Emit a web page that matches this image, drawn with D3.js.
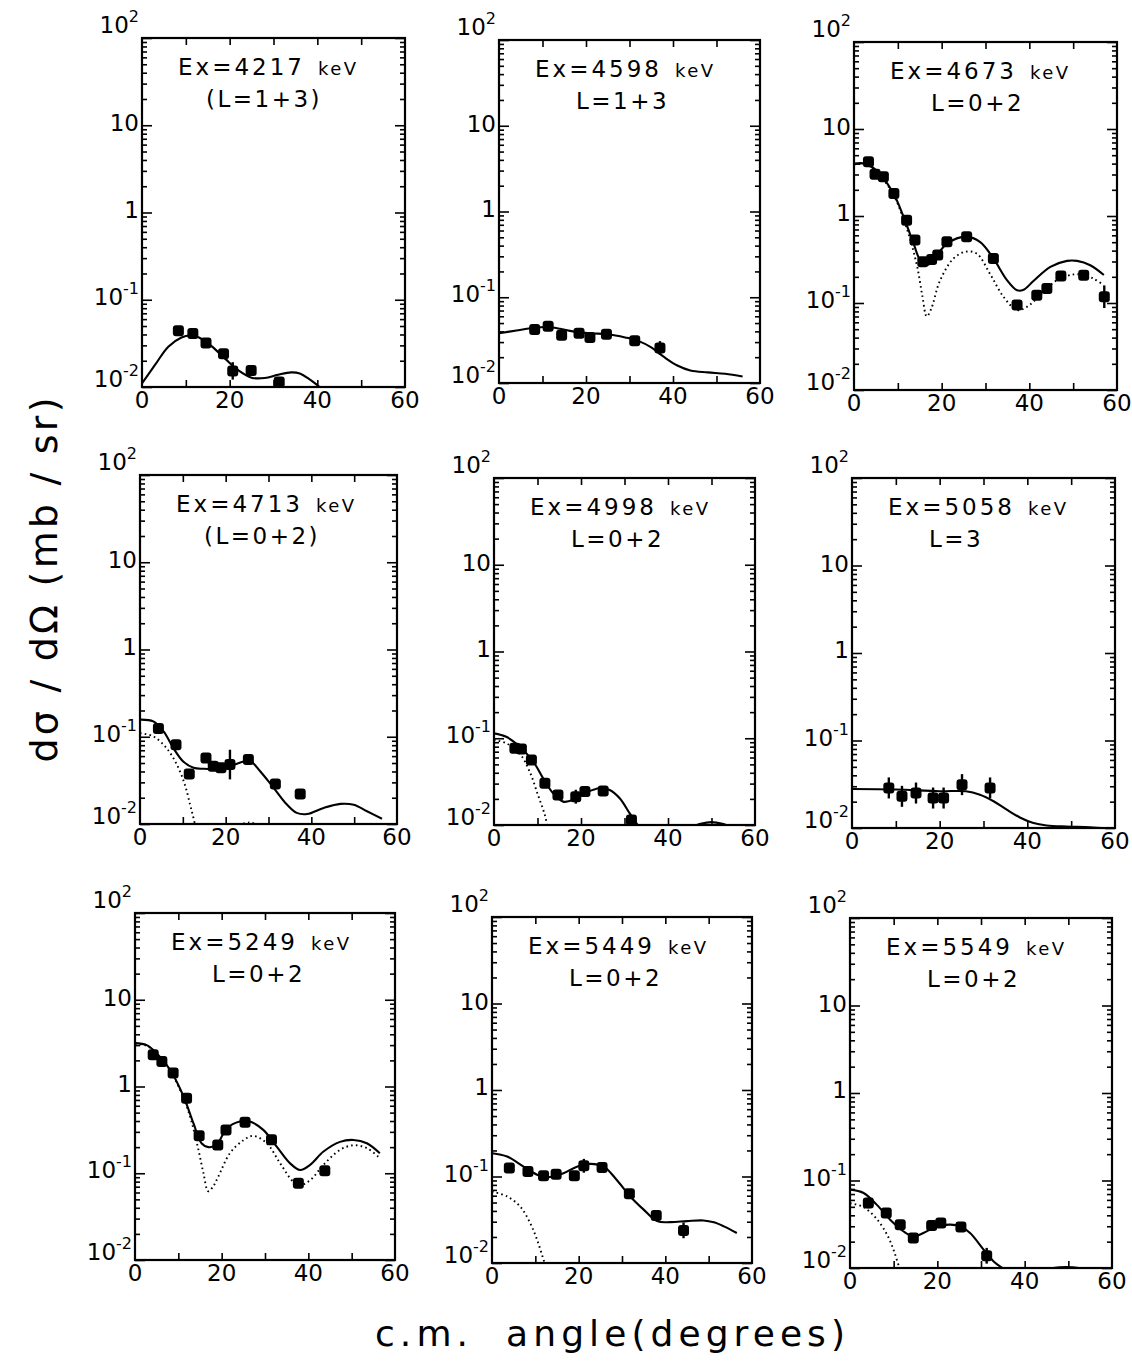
<!DOCTYPE html>
<html lang="en">
<head>
  <meta charset="UTF-8">
  <title>Angular distributions</title>
  <script src="https://cdn.jsdelivr.net/npm/d3@7"></script>
  <style>
    body { margin: 0; background: #fff; }
    svg text { font-family: "DejaVu Sans", sans-serif; fill: #000; }
  </style>
</head>
<body>
  <svg id="chart" width="1132" height="1371"></svg>
  <script>
    // ---- data ----
    const xTicks = [0, 20, 40, 60];
    const xInnerTicks = [10, 20, 30, 40, 50];
    const yDecades = [100, 10, 1, 0.1, 0.01];
    const yLabelBase = ["10", "10", "1", "10", "10"];
    const yLabelSup = ["2", "", "", "-1", "-2"];

    const exLabels = ["4217", "4598", "4673", "4713", "4998", "5058", "5249", "5449", "5549"];
    const lLabels = ["(L=1+3)", "L=1+3", "L=0+2", "(L=0+2)", "L=0+2", "L=3", "L=0+2", "L=0+2", "L=0+2"];

    // points: [angle, dσ/dΩ, error half-width in decades (optional)]
    const pts4217 = [[8.3, 0.044], [11.6, 0.041], [14.6, 0.032], [18.6, 0.024], [20.7, 0.0153, 0.1], [24.9, 0.0155], [31.3, 0.0114]];
    const fit4217 = [[0, 0.011], [3, 0.018], [6, 0.029], [9, 0.037], [11, 0.039], [13, 0.037], [16, 0.029], [19, 0.021], [22, 0.0155], [25, 0.0128], [28, 0.0127], [31, 0.0138], [34, 0.0147], [36, 0.0143], [38, 0.0125], [40, 0.0105], [42, 0.0085]];

    const pts4598 = [[8.2, 0.042], [11.3, 0.046], [14.4, 0.036], [18.4, 0.038], [20.9, 0.034], [24.7, 0.037], [31.2, 0.031], [37, 0.0256, 0.08]];
    const fit4598 = [[0, 0.038], [4, 0.041], [8, 0.044], [11, 0.045], [14, 0.043], [17, 0.040], [21, 0.038], [25, 0.037], [29, 0.034], [32, 0.031], [35, 0.026], [38, 0.020], [41, 0.016], [44, 0.014], [48, 0.0133], [52, 0.0128], [56, 0.0119]];

    const pts4673 = [[3.3, 4.19], [4.8, 3.02], [6.7, 2.82], [9.1, 1.81], [12.0, 0.895], [13.9, 0.53], [15.7, 0.298], [17.7, 0.317], [19.1, 0.356], [21.2, 0.506], [25.7, 0.577], [31.8, 0.325], [37.2, 0.0946, 0.05], [41.7, 0.123], [44.0, 0.147], [47.2, 0.204], [52.4, 0.209], [57.1, 0.118, 0.13]];
    const fit4673 = [[0, 4.0], [2.5, 4.0], [5.5, 3.2], [9, 1.81], [11.3, 0.98], [13.6, 0.48], [15.1, 0.31], [16.6, 0.272], [18.1, 0.31], [21.2, 0.48], [25.7, 0.58], [28.8, 0.5], [31.8, 0.325], [34.9, 0.183], [37.2, 0.14], [38.7, 0.142], [41, 0.18], [44.8, 0.26], [48.6, 0.305], [50.9, 0.305], [53.9, 0.272], [57, 0.21]];
    const dot4673 = [[0, 3.9], [2.5, 3.9], [5.5, 3.1], [9, 1.75], [11.3, 0.92], [13, 0.5], [14.5, 0.25], [15.6, 0.12], [16.6, 0.07], [17.6, 0.085], [19.6, 0.18], [22.7, 0.325], [25.4, 0.388], [28, 0.37], [31.1, 0.213], [34.1, 0.118], [37.2, 0.083], [39.4, 0.09], [42.5, 0.123], [46.3, 0.183], [50.1, 0.213], [52.4, 0.21], [54.7, 0.19], [57, 0.16]];

    const pts4713 = [[4.3, 0.124], [8.4, 0.081], [11.5, 0.0375], [15.4, 0.057], [17.1, 0.046], [18.9, 0.044], [21.0, 0.048, 0.17], [25.3, 0.0547], [31.6, 0.0288], [37.4, 0.0221]];
    const fit4713 = [[0, 0.157], [3.1, 0.15], [5.5, 0.115], [7.8, 0.074], [10.1, 0.052], [12.5, 0.044], [14.8, 0.043], [17.9, 0.043], [21, 0.046], [24.2, 0.052], [25.7, 0.053], [28.1, 0.040], [31.2, 0.026], [34.3, 0.0167], [36.6, 0.0134], [39, 0.013], [42.9, 0.0153], [46.8, 0.017], [49.9, 0.0166], [53, 0.014], [56.5, 0.0115]];
    const dot4713 = [[0, 0.11], [3.1, 0.101], [6.2, 0.074], [8.6, 0.048], [10.5, 0.028], [11.7, 0.0166], [12.3, 0.0128], [13, 0.009], null, [23, 0.0097], [25.5, 0.0104], [28, 0.0097]];

    const pts4998 = [[4.8, 0.0767], [6.3, 0.0752], [8.6, 0.056], [11.7, 0.0303], [14.7, 0.0222], [18.8, 0.0212, 0.08], [20.9, 0.0243], [25.1, 0.0247], [31.6, 0.0114]];
    const fit4998 = [[0, 0.114], [2.8, 0.104], [5.9, 0.080], [9, 0.054], [11.3, 0.0345], [13.6, 0.0232], [15.9, 0.0186], [18.2, 0.0194], [21.3, 0.0238], [24.3, 0.0265], [26.6, 0.0253], [28.9, 0.0203], [31.2, 0.0136], [32.8, 0.0104], [34, 0.0085], null, [45, 0.0092], [47.5, 0.0103], [50, 0.0108], [52.5, 0.0103], [55, 0.0092]];
    const dot4998 = [[0, 0.096], [2.8, 0.0875], [5.9, 0.067], [8.2, 0.0412], [10.1, 0.0222], [11.7, 0.013], [12.5, 0.0085]];

    const pts5058 = [[8.4, 0.0287, 0.12], [11.4, 0.023, 0.12], [14.6, 0.0251, 0.12], [18.5, 0.022, 0.12], [20.9, 0.022, 0.12], [25.1, 0.0313, 0.12], [31.5, 0.0287, 0.12]];
    const fit5058 = [[0, 0.0279], [10, 0.0275], [20, 0.0263], [26, 0.0263], [29.2, 0.024], [32.3, 0.0202], [35.3, 0.0162], [38.3, 0.0132], [41.4, 0.0114], [44.4, 0.0107], [49, 0.0104], [54.3, 0.0102], [58, 0.0099]];

    const pts5249 = [[4.2, 2.32], [6.2, 1.94], [8.8, 1.43], [11.9, 0.733], [14.8, 0.27], [19.1, 0.212], [21.0, 0.316], [25.4, 0.388], [31.5, 0.243], [37.7, 0.0767], [43.8, 0.107]];
    const fit5249 = [[0, 3.16], [2.7, 3.0], [5, 2.42], [8.1, 1.56], [11.2, 0.77], [13.5, 0.375], [15.4, 0.22], [16.9, 0.2], [18.8, 0.212], [21.2, 0.33], [24.2, 0.395], [26.5, 0.395], [29.6, 0.316], [32.7, 0.203], [35.8, 0.13], [38.1, 0.109], [40.4, 0.125], [43.5, 0.178], [47.3, 0.23], [50.4, 0.242], [53.5, 0.222], [56.5, 0.17]];
    const dot5249 = [[0, 3.1], [2.7, 2.95], [5, 2.38], [8.1, 1.52], [11.2, 0.74], [13, 0.4], [14.5, 0.2], [15.8, 0.1], [16.9, 0.062], [18, 0.07], [19.2, 0.091], [21.9, 0.17], [25, 0.24], [27.3, 0.27], [30.4, 0.222], [33.5, 0.13], [36.5, 0.08], [38, 0.073], [40.4, 0.083], [43.5, 0.125], [47.3, 0.186], [50.4, 0.21], [53.5, 0.195], [56.5, 0.149]];

    const pts5449 = [[4, 0.125], [8.3, 0.114], [11.9, 0.102], [14.8, 0.106], [19, 0.102], [21.2, 0.133, 0.08], [25.4, 0.127], [31.7, 0.063], [37.9, 0.0355], [44.2, 0.0238, 0.09]];
    const fit5449 = [[0, 0.186], [3.5, 0.17], [7.3, 0.13], [10.4, 0.105], [12.7, 0.098], [16.5, 0.109], [19.6, 0.13], [22.7, 0.14], [25.8, 0.13], [28.8, 0.091], [31.9, 0.0588], [35, 0.0414], [38.1, 0.0305], [41.2, 0.0297], [45, 0.0305], [48.8, 0.031], [51.2, 0.0295], [53.5, 0.0265], [56.5, 0.0222]];
    const dot5449 = [[0, 0.067], [3.5, 0.0588], [6.5, 0.045], [8.8, 0.029], [10.4, 0.0186], [11.9, 0.0109], [12.5, 0.009]];

    const pts5549 = [[4.2, 0.0553, 0.06], [8.3, 0.0425], [11.5, 0.0313], [14.5, 0.022], [18.7, 0.0305], [20.8, 0.0327], [25.4, 0.0294], [31.3, 0.0138, 0.09]];
    const fit5549 = [[0, 0.0786], [3.1, 0.072], [6.1, 0.053], [9.2, 0.0357], [12.2, 0.0263], [14.5, 0.023], [16.8, 0.0251], [19.9, 0.03], [23, 0.0313], [25.2, 0.03], [27.5, 0.0251], [30.6, 0.0162], [32.9, 0.0119], [35.2, 0.0097], [36, 0.009], null, [45, 0.0096], [48, 0.0102], [51, 0.0102], [54, 0.0096]];
    const dot5549 = [[0, 0.055], [3, 0.05], [6, 0.037], [8.5, 0.024], [10, 0.016], [11.2, 0.0105], [11.8, 0.009]];

    const pointSets = [pts4217, pts4598, pts4673, pts4713, pts4998, pts5058, pts5249, pts5449, pts5549];
    const fitSets = [fit4217, fit4598, fit4673, fit4713, fit4998, fit5058, fit5249, fit5449, fit5549];
    const dotSets = [null, null, dot4673, dot4713, dot4998, null, dot5249, dot5449, dot5549];

    // ---- layout: frame [left, top, right, bottom] of each panel ----
    const frames = [
      [142, 38, 405, 387], [499, 40, 760, 383], [854, 42, 1117, 390],
      [140, 475, 397, 824], [494, 478, 755, 825], [852, 478, 1115, 828],
      [135, 913, 395, 1260], [492, 917, 752, 1263], [850, 918, 1112, 1268]
    ];
    const labelOffsets = [-5, 6, 5, 5, 0];

    const svg = d3.select("#chart");

    exLabels.forEach((ex, i) => {
      const [x0, y0, x1, y1] = frames[i];
      const w = x1 - x0, h = y1 - y0;

      const xScale = d3.scaleLinear().domain([0, 60]).range([0, w]);
      const yScale = d3.scaleLog().domain([0.01, 100]).range([h, 0]);

      const g = svg.append("g").attr("transform", `translate(${x0},${y0})`);

      g.append("clipPath").attr("id", `clip${i}`)
        .append("rect").attr("width", w).attr("height", h);

      // ticks (all pointing inward)
      const minor = yScale.ticks().filter(v => !yDecades.some(d => Math.abs(d - v) < 1e-9));
      const tickStyle = sel => {
        sel.select(".domain").remove();
        sel.selectAll(".tick line").attr("stroke", "#000").attr("stroke-width", 1.6);
      };
      g.append("g").call(d3.axisLeft(yScale).tickValues(minor).tickSize(-5).tickFormat("")).call(tickStyle);
      g.append("g").call(d3.axisLeft(yScale).tickValues(yDecades).tickSize(-10).tickFormat("")).call(tickStyle);
      g.append("g").attr("transform", `translate(${w},0)`)
        .call(d3.axisRight(yScale).tickValues(minor).tickSize(-5).tickFormat("")).call(tickStyle);
      g.append("g").attr("transform", `translate(${w},0)`)
        .call(d3.axisRight(yScale).tickValues(yDecades).tickSize(-10).tickFormat("")).call(tickStyle);
      g.append("g").attr("transform", `translate(0,${h})`)
        .call(d3.axisBottom(xScale).tickValues(xInnerTicks).tickSize(-7).tickFormat("")).call(tickStyle);
      g.append("g")
        .call(d3.axisTop(xScale).tickValues(xInnerTicks).tickSize(-7).tickFormat("")).call(tickStyle);

      // frame
      g.append("rect")
        .attr("width", w).attr("height", h)
        .attr("fill", "none").attr("stroke", "#000").attr("stroke-width", 2.2);

      // x tick labels
      g.selectAll(".xlab").data(xTicks).join("text")
        .attr("x", d => xScale(d)).attr("y", h + 21)
        .attr("text-anchor", "middle").attr("font-size", 23)
        .text(d => d);

      // y tick labels with superscripts
      yDecades.forEach((v, k) => {
        const t = g.append("text")
          .attr("x", -3).attr("y", yScale(v) + labelOffsets[k])
          .attr("text-anchor", "end").attr("font-size", 23);
        t.append("tspan").text(yLabelBase[k]);
        if (yLabelSup[k]) {
          t.append("tspan").attr("font-size", 16).attr("dy", -11).text(yLabelSup[k]);
        }
      });

      // panel titles
      g.append("text").attr("x", 36).attr("y", 37)
        .attr("font-size", 23).style("letter-spacing", "3px")
        .text(`Ex=${ex}`);
      g.append("text").attr("x", 176).attr("y", 37)
        .attr("font-size", 18).style("letter-spacing", "2.5px")
        .text("keV");
      const lab = lLabels[i];
      g.append("text").attr("x", lab.startsWith("(") ? 64 : 77).attr("y", 69)
        .attr("font-size", 23).style("letter-spacing", "2.5px")
        .text(lab);

      // curves
      const line = d3.line()
        .defined(d => d)
        .x(d => xScale(d[0]))
        .y(d => yScale(d[1]))
        .curve(d3.curveCatmullRom.alpha(0.5));

      const plot = g.append("g").attr("clip-path", `url(#clip${i})`);

      if (dotSets[i]) {
        plot.append("path").attr("d", line(dotSets[i]))
          .attr("fill", "none").attr("stroke", "#000")
          .attr("stroke-width", 1.9).attr("stroke-dasharray", "1.6 3.2");
      }
      plot.append("path").attr("d", line(fitSets[i]))
        .attr("fill", "none").attr("stroke", "#000").attr("stroke-width", 2.1);

      // data points with error bars
      const pts = pointSets[i];
      plot.selectAll(".err").data(pts.filter(d => d[2])).join("line")
        .attr("x1", d => xScale(d[0])).attr("x2", d => xScale(d[0]))
        .attr("y1", d => yScale(d[1] * Math.pow(10, -d[2])))
        .attr("y2", d => yScale(d[1] * Math.pow(10, d[2])))
        .attr("stroke", "#000").attr("stroke-width", 2.4);
      plot.selectAll(".pt").data(pts).join("rect")
        .attr("x", d => xScale(d[0]) - 5.5).attr("y", d => yScale(d[1]) - 5.5)
        .attr("width", 11).attr("height", 11).attr("rx", 3)
        .attr("fill", "#000");
    });

    // axis titles
    svg.append("text")
      .attr("transform", "translate(57,580) rotate(-90)")
      .attr("text-anchor", "middle").attr("font-size", 38)
      .attr("textLength", 365).attr("lengthAdjust", "spacing")
      .text("dσ / dΩ  (mb / sr)");

    svg.append("text")
      .attr("x", 375).attr("y", 1346)
      .attr("font-size", 36).style("white-space", "pre")
      .attr("textLength", 470).attr("lengthAdjust", "spacing")
      .text("c.m.  angle(degrees)");
  </script>
</body>
</html>
